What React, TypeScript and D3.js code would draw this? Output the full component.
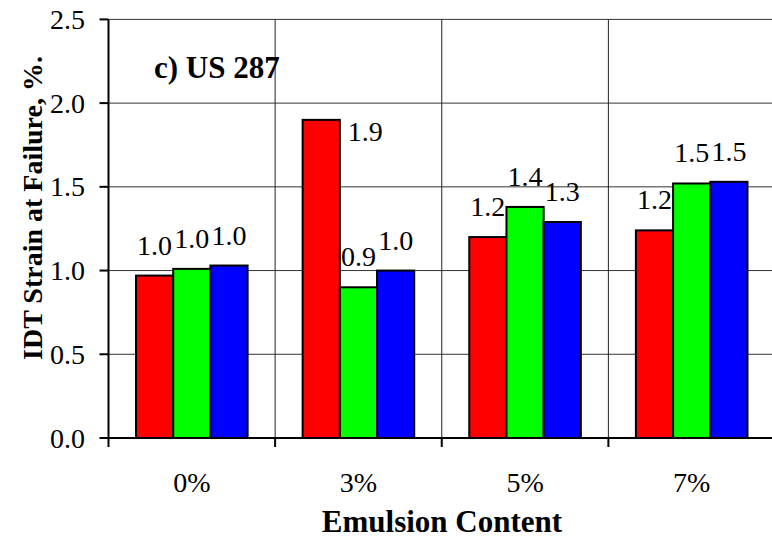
import React from "react";
import * as d3 from "d3";

const categories = ["0%", "3%", "5%", "7%"];
const seriesNames = ["S1", "S2", "S3"];
const seriesColors = ["#FF0000", "#00FF00", "#0000FF"];
const series1 = [0.97, 1.9, 1.2, 1.24];
const series2 = [1.01, 0.9, 1.38, 1.52];
const series3 = [1.03, 1.0, 1.29, 1.53];
const yTicks = [0, 0.5, 1.0, 1.5, 2.0, 2.5];
const chartTitle = "c) US 287";
const xTitle = "Emulsion Content";
const yTitle = "IDT Strain at Failure, %.";

const W = 772;
const H = 538;
const left = 108.5;
const right = 775;
const top = 19.4;
const bottom = 438;
const FONT = '"Liberation Serif", "Times New Roman", serif';

export default function App() {
  const values = [series1, series2, series3];
  const x = d3.scaleBand<string>().domain(categories).range([left, right]).padding(0);
  const xi = d3
    .scaleBand<string>()
    .domain(seriesNames)
    .range([0, x.bandwidth()])
    .paddingInner(0)
    .paddingOuter(0.74);
  const y = d3.scaleLinear().domain([0, 2.5]).range([bottom, top]);

  const boundaries = categories.map((c) => x(c)!).concat([right]);
  const ts = { fontFamily: FONT };

  return (
    <svg
      width={W}
      height={H}
      style={{ position: "absolute", left: 0, top: 0, background: "#fff", fontFamily: FONT }}
    >
      <rect x={0} y={0} width={W} height={H} fill="#fff" />
      {yTicks.slice(1).map((t) => (
        <line key={"hg" + t} x1={left} x2={right} y1={y(t)} y2={y(t)} stroke="#333" strokeWidth={1} />
      ))}
      {boundaries.slice(1).map((bx, i) => (
        <line key={"vg" + i} x1={bx} x2={bx} y1={top} y2={bottom} stroke="#222" strokeWidth={1} />
      ))}
      {categories.map((c, ci) =>
        seriesNames.map((s, si) => {
          const v = values[si][ci];
          const bx = x(c)! + xi(s)!;
          return (
            <rect
              key={c + s}
              x={bx}
              y={y(v)}
              width={xi.bandwidth()}
              height={bottom - y(v)}
              fill={seriesColors[si]}
              stroke="#000"
              strokeWidth={2}
            />
          );
        })
      )}
      {categories.map((c, ci) =>
        seriesNames.map((s, si) => {
          const v = values[si][ci];
          const bx = x(c)! + xi(s)!;
          const isRight = ci === 1 && si === 0;
          const lx = isRight ? bx + xi.bandwidth() + 8 : bx + xi.bandwidth() / 2;
          const ly = isRight ? y(v) + 21 : y(v) - 21;
          return (
            <text
              key={"l" + c + s}
              x={lx}
              y={ly}
              fontSize={28}
              textAnchor={isRight ? "start" : "middle"}
              fill="#000"
              style={ts}
            >
              {d3.format(".1f")(v)}
            </text>
          );
        })
      )}
      <line x1={left} x2={left} y1={top} y2={bottom + 1} stroke="#000" strokeWidth={2} />
      <line x1={left - 1} x2={right} y1={bottom} y2={bottom} stroke="#000" strokeWidth={2} />
      {yTicks.map((t) => (
        <g key={"yt" + t}>
          <line x1={left - 9} x2={left} y1={y(t)} y2={y(t)} stroke="#000" strokeWidth={2} />
          <text x={85} y={y(t) + 9.5} fontSize={28} textAnchor="end" fill="#000" style={ts}>
            {d3.format(".1f")(t)}
          </text>
        </g>
      ))}
      {boundaries.map((bx, i) => (
        <line key={"xt" + i} x1={bx} x2={bx} y1={bottom} y2={bottom + 9} stroke="#000" strokeWidth={2} />
      ))}
      {categories.map((c) => (
        <text
          key={"xl" + c}
          x={x(c)! + x.bandwidth() / 2}
          y={492}
          fontSize={28}
          textAnchor="middle"
          fill="#000"
          style={ts}
        >
          {c}
        </text>
      ))}
      <text x={154} y={78} fontSize={31} fontWeight="bold" fill="#000" style={ts}>
        {chartTitle}
      </text>
      <text x={442} y={532} fontSize={31} fontWeight="bold" textAnchor="middle" fill="#000" style={ts}>
        {xTitle}
      </text>
      <text
        transform={`translate(42,208) rotate(-90)`}
        fontSize={28}
        fontWeight="bold"
        textAnchor="middle"
        fill="#000"
        style={ts}
      >
        {yTitle}
      </text>
    </svg>
  );
}
